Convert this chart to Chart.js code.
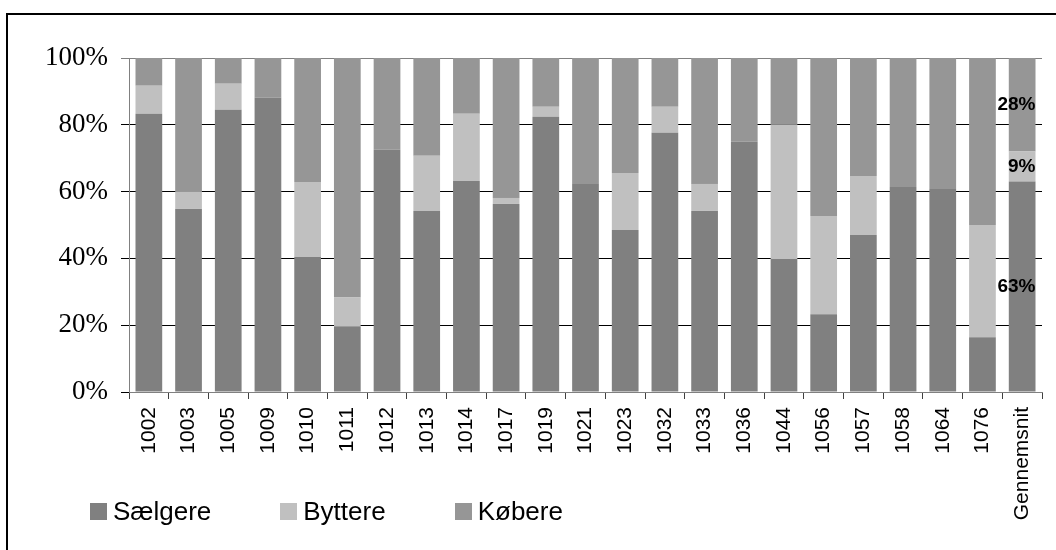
<!DOCTYPE html>
<html>
<head>
<meta charset="utf-8">
<script src="https://cdn.jsdelivr.net/npm/chart.js@4/dist/chart.umd.min.js"></script>
<style>
    body { margin: 0; background: #fff; }
    #wrap { position: relative; width: 1056px; height: 550px; overflow: hidden; }
    .frame {
        position: absolute; left: 6px; top: 13px;
        width: 1200px; height: 700px;
        border: 2px solid #000;
    }
    #chart { position: absolute; left: 0; top: 0; }
    #legend {
        position: absolute; left: 90px; top: 496px;
        margin: 0; padding: 0; list-style: none;
        display: flex; gap: 69px;
        font: 26px Arial, "Liberation Sans", sans-serif; color: #000;
    }
    #legend li { display: flex; align-items: center; }
    #legend .box { width: 17px; height: 17px; margin-right: 6px; }
</style>
</head>
<body>
<div id="wrap">
    <div class="frame"></div>
    <canvas id="chart" width="1056" height="550"></canvas>
    <ul id="legend"></ul>
</div>
<script>
const categories = ['1002', '1003', '1005', '1009', '1010', '1011', '1012', '1013', '1014', '1017', '1019', '1021',
    '1023', '1032', '1033', '1036', '1044', '1056', '1057', '1058', '1064', '1076', 'Gennemsnit'];

// shares in percent per member
const saelgere = [83.3, 54.8, 84.5, 88.1, 40.4, 19.7, 72.5, 54.2, 63.2, 56.3, 82.4, 62.3,
    48.5, 77.6, 54.2, 74.9, 39.8, 23.3, 47.0, 61.4, 60.8, 16.4, 63];
const byttere = [8.4, 5.1, 7.8, 0, 22.5, 8.7, 0, 16.5, 20.1, 1.8, 3.0, 0,
    17.1, 7.8, 8.1, 0, 40.2, 29.4, 17.7, 0, 0, 33.6, 9];
const koebere = [8.3, 40.1, 7.7, 11.9, 37.1, 71.6, 27.5, 29.3, 16.7, 41.9, 14.6, 37.7,
    34.4, 14.6, 37.7, 25.1, 20.0, 47.3, 35.3, 38.6, 39.2, 50.0, 28];

const yTickLabels = ['0%', '20%', '40%', '60%', '80%', '100%'];
const labelledCategories = ['Gennemsnit'];

const sans = 'Arial, "Liberation Sans", sans-serif';

// value labels on the average bar
const valueLabels = {
    id: 'valueLabels',
    afterDatasetsDraw(chart) {
        const ctx = chart.ctx;
        ctx.save();
        ctx.font = 'bold 19px ' + sans;
        ctx.fillStyle = '#000';
        ctx.textAlign = 'right';
        ctx.textBaseline = 'middle';
        chart.data.datasets.forEach((ds, i) => {
            const meta = chart.getDatasetMeta(i);
            labelledCategories.forEach(cat => {
                const idx = chart.data.labels.indexOf(cat);
                const bar = meta.data[idx];
                const v = ds.data[idx];
                if (!bar || !v) return;
                ctx.fillText(v + '%', bar.x + bar.width / 2, (bar.y + bar.base) / 2);
            });
        });
        ctx.restore();
    }
};

const ctx = document.getElementById('chart').getContext('2d');
const chart = new Chart(ctx, {
    type: 'bar',
    data: {
        labels: categories,
        datasets: [
            { label: 'Sælgere', data: saelgere, backgroundColor: '#808080' },
            { label: 'Byttere', data: byttere, backgroundColor: '#c0c0c0' },
            { label: 'Købere', data: koebere, backgroundColor: '#969696' }
        ]
    },
    options: {
        responsive: false,
        animation: false,
        devicePixelRatio: 1,
        layout: { padding: { top: 58, right: 14, left: 0, bottom: 0 } },
        datasets: { bar: { barPercentage: 0.673, categoryPercentage: 1, borderWidth: 0 } },
        plugins: {
            legend: { display: false },
            tooltip: { enabled: false }
        },
        scales: {
            x: {
                stacked: true,
                afterFit: scale => { scale.height = 158; },
                grid: { drawOnChartArea: false, drawTicks: true, tickLength: 7, color: '#404040' },
                border: { color: '#808080' },
                ticks: {
                    autoSkip: false,
                    minRotation: 90,
                    maxRotation: 90,
                    padding: 8,
                    color: '#000',
                    font: { family: sans, size: 21 }
                }
            },
            y: {
                stacked: true,
                min: 0,
                max: 100,
                afterFit: scale => { scale.width = 129; },
                grid: {
                    color: c => (c.tick && c.tick.value === 100) ? '#808080' : '#000',
                    tickLength: 8
                },
                border: { color: '#808080' },
                ticks: {
                    stepSize: 20,
                    padding: 13,
                    color: '#000',
                    font: { family: '"Liberation Serif", "Times New Roman", serif', size: 27 },
                    callback: (value, index) => yTickLabels[index]
                }
            }
        }
    },
    plugins: [valueLabels]
});

// legend built from the datasets
const legend = document.getElementById('legend');
chart.data.datasets.forEach(ds => {
    const li = document.createElement('li');
    li.innerHTML = `<span class="box" style="background:${ds.backgroundColor}"></span>${ds.label}`;
    legend.appendChild(li);
});
</script>
</body>
</html>
